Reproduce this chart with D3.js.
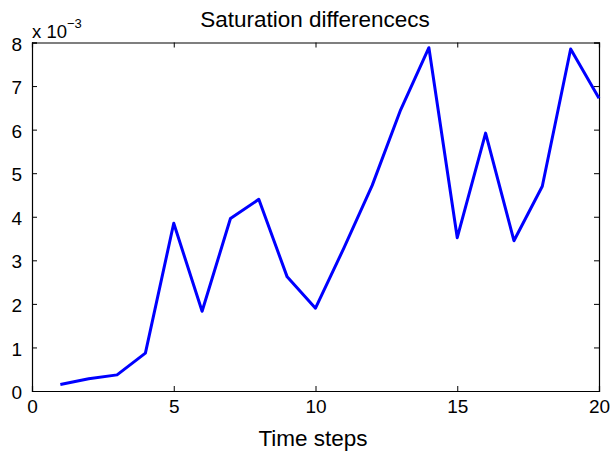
<!DOCTYPE html>
<html>
<head>
<meta charset="utf-8">
<script src="https://cdn.jsdelivr.net/npm/d3@7"></script>
<style>
  body { margin: 0; background: #fff; }
  text { font-family: "Liberation Sans", Arial, sans-serif; fill: #000; }
</style>
</head>
<body>
<div id="chart"></div>
<script>
// values in units of 1e-3
const steps = d3.range(1, 21);
const satDiff = [0.15, 0.28, 0.37, 0.87, 3.85, 1.83, 3.96, 4.40, 2.62, 1.90,
                 3.28, 4.72, 6.45, 7.88, 3.52, 5.92, 3.45, 4.70, 7.85, 6.72];
const xTicks = [0, 5, 10, 15, 20];
const yTicks = [0, 1, 2, 3, 4, 5, 6, 7, 8];

const width = 613, height = 453,
    margin = ({ top: 42.5, right: 14, bottom: 62, left: 32 });

const svg = d3.select("#chart")
    .append("svg")
    .attr("width", width)
    .attr("height", height);

const x = d3.scaleLinear()
    .domain([0, 20])
    .range([margin.left, width - margin.right]);

const y = d3.scaleLinear()
    .domain([0, 8])
    .range([height - margin.bottom, margin.top]);

// inward ticks on all four sides
svg.append("g")
    .attr("transform", `translate(0,${height - margin.bottom})`)
    .call(d3.axisBottom(x).tickValues(xTicks).tickSize(-5).tickPadding(9))
    .call(g => g.selectAll("text").attr("font-size", 19));

svg.append("g")
    .attr("transform", `translate(0,${margin.top})`)
    .call(d3.axisTop(x).tickValues(xTicks).tickSize(-5).tickFormat(""));

svg.append("g")
    .attr("transform", `translate(${margin.left},0)`)
    .call(d3.axisLeft(y).tickValues(yTicks).tickSize(-5).tickPadding(10))
    .call(g => g.selectAll("text").attr("font-size", 19).attr("dy", "0.4em"));

svg.append("g")
    .attr("transform", `translate(${width - margin.right},0)`)
    .call(d3.axisRight(y).tickValues(yTicks).tickSize(-5).tickFormat(""));

svg.selectAll(".domain").attr("stroke", "#000").attr("stroke-width", 1.2);
svg.selectAll(".tick line").attr("stroke", "#000");

const line = d3.line()
    .x((d, i) => x(steps[i]))
    .y(d => y(d));

svg.append("path")
    .datum(satDiff)
    .attr("fill", "none")
    .attr("stroke", "#0000ff")
    .attr("stroke-width", 3)
    .attr("stroke-linejoin", "round")
    .attr("d", line);

svg.append("text")
    .attr("x", 315)
    .attr("y", 27)
    .attr("text-anchor", "middle")
    .attr("font-size", 22.5)
    .text("Saturation differencecs");

svg.append("text")
    .attr("x", margin.left)
    .attr("y", 38)
    .attr("font-size", 18.5)
    .text("x 10")
    .append("tspan")
    .attr("dy", -10)
    .attr("font-size", 13)
    .text("\u22123");

svg.append("text")
    .attr("x", 313)
    .attr("y", 446)
    .attr("text-anchor", "middle")
    .attr("font-size", 22.5)
    .text("Time steps");
</script>
</body>
</html>
